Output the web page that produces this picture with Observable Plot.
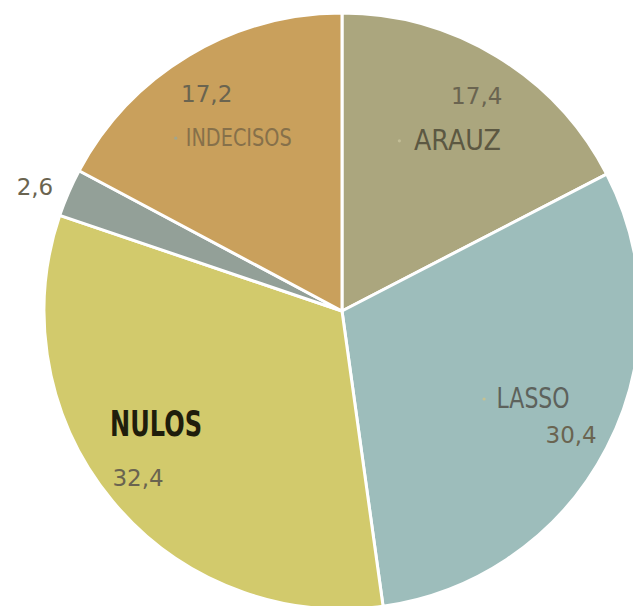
<!DOCTYPE html>
<html><head><meta charset="utf-8">
<script src="https://cdn.jsdelivr.net/npm/d3@7"></script>
<script src="https://cdn.jsdelivr.net/npm/@observablehq/plot@0.6"></script>
<style>
html,body{margin:0;padding:0;background:#fff;overflow:hidden}
#chart svg{display:block}
</style>
</head><body><div id="chart"></div>
<script>
// ---- data ----
const categories = ["ARAUZ", "LASSO", "NULOS", "", "INDECISOS"];
const values = [17.4, 30.4, 32.4, 2.6, 17.2];
const valueLabels = ["17,4", "30,4", "32,4", "2,6", "17,2"];
const colors = ["#aba67e", "#9dbdbb", "#d2ca6c", "#93a098", "#c9a05c"];

// ---- layout / styles ----
const FONT = "'DejaVu Sans',sans-serif";
const CX = 342, CY = 311, R = 298;
const nameStyle = {
  "ARAUZ":     {size: 28, color: "#5c5842", weight: 400, width: 87, dx: 8, dy: 5, bullet: "#c2bd96", bx: -58},
  "LASSO":     {size: 28, color: "#5d625c", weight: 400, width: 73, dx: 8, dy: -7, bullet: "#c6c191", bx: -49},
  "NULOS":     {size: 36, color: "#1f1d0c", weight: 700, width: 92, dx: -28, dy: -18, bullet: null, bx: 0},
  "INDECISOS": {size: 24, color: "#86704a", weight: 400, width: 106, dx: 2, dy: 3, bullet: "#a3a58c", bx: -63}
};
const valueStyle = {
  "17,4": {dx: 1, dy: 4}, "30,4": {dx: 1, dy: 6}, "32,4": {dx: -7, dy: 4},
  "2,6": {dx: -4, dy: 7}, "17,2": {dx: -4, dy: 3}
};
const valueColor = "#6a6450";

const data = categories.map((c, i) => ({name: c, value: values[i], label: valueLabels[i], color: colors[i]}));
const arcs = d3.pie().sort(null).value(d => d.value).startAngle(0).endAngle(2 * Math.PI)(data);

function polar(a, k) { return {x: k * Math.sin(a), y: k * Math.cos(a)}; }
const nameRows = arcs.filter(a => a.data.name).map(a => {
  const mid = (a.startAngle + a.endAngle) / 2;
  return {...polar(mid, 0.69), ...a.data};
});
const valueRows = arcs.map(a => {
  const mid = (a.startAngle + a.endAngle) / 2;
  const k = a.value < 5 ? 1.11 : 0.86;
  return {...polar(mid, k), ...a.data};
});

function pieMark(index, scales) {
  const sx = scales.x, sy = scales.y;
  const cx = sx ? sx(0) : CX, cy = sy ? sy(0) : CY;
  const r = sx ? sx(1) - sx(0) : R;
  const arc = d3.arc().innerRadius(0).outerRadius(r);
  const g = d3.create("svg:g").attr("transform", `translate(${cx},${cy})`);
  g.selectAll("path").data(arcs).join("path")
    .attr("d", arc)
    .attr("fill", d => d.data.color)
    .attr("stroke", "#ffffff")
    .attr("stroke-width", 3)
    .attr("stroke-linejoin", "round");
  return g.node();
}

const nameMarks = Object.keys(nameStyle).map(n => Plot.text(nameRows.filter(d => d.name === n), {
  x: "x", y: "y", text: "name",
  fontSize: nameStyle[n].size, fill: nameStyle[n].color, fontWeight: nameStyle[n].weight,
  fontFamily: FONT, textAnchor: "middle", dx: nameStyle[n].dx, dy: nameStyle[n].dy
}));
const bulletMarks = Object.keys(nameStyle).filter(n => nameStyle[n].bullet).map(n => Plot.dot(nameRows.filter(d => d.name === n), {
  x: "x", y: "y", r: 1.6, fill: nameStyle[n].bullet, stroke: "none",
  dx: nameStyle[n].dx + nameStyle[n].bx, dy: nameStyle[n].dy
}));
const valueMarks = Object.keys(valueStyle).map(v => Plot.text(valueRows.filter(d => d.label === v), {
  x: "x", y: "y", text: "label", fontSize: 23, fill: valueColor,
  fontFamily: FONT, textAnchor: "middle", dx: valueStyle[v].dx, dy: valueStyle[v].dy
}));

const chart = Plot.plot({
  width: 633, height: 606, margin: 0,
  style: {background: "#fff", fontFamily: FONT},
  x: {domain: [-1, 1], range: [CX - R, CX + R], axis: null},
  y: {domain: [-1, 1], range: [CY + R, CY - R], axis: null},
  marks: [pieMark, ...bulletMarks, ...nameMarks, ...valueMarks]
});
document.getElementById("chart").append(chart);
// condense the category names to the reference's narrow lettering
chart.querySelectorAll("text").forEach(t => {
  const s = nameStyle[t.textContent];
  if (s) { t.setAttribute("textLength", s.width); t.setAttribute("lengthAdjust", "spacingAndGlyphs"); }
});
</script>
</body></html>
